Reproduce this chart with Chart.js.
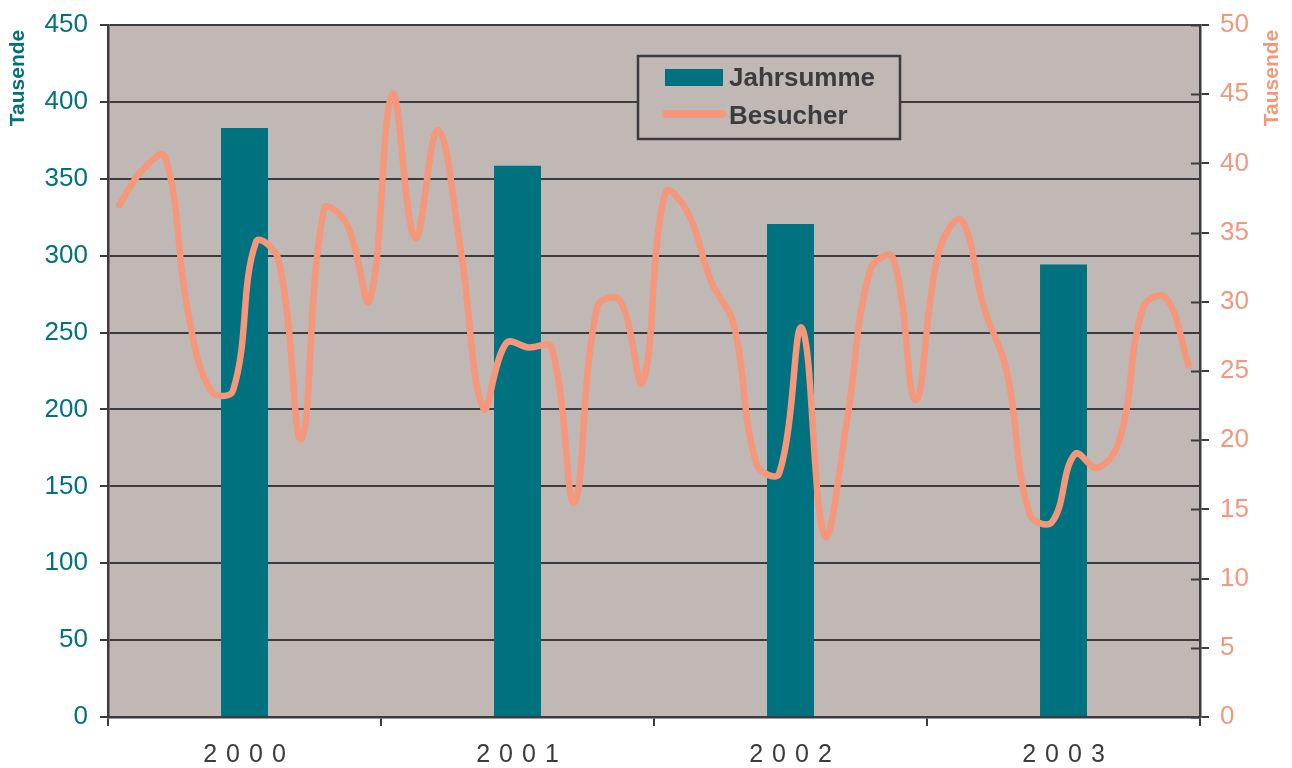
<!DOCTYPE html>
<html>
<head>
<meta charset="utf-8">
<script src="https://cdn.jsdelivr.net/npm/chart.js@4/dist/chart.umd.min.js"></script>
<style>
html,body{margin:0;padding:0;background:#fff;}
#wrap{width:1292px;height:768px;position:relative;}
</style>
</head>
<body>
<div id="wrap"><canvas id="c" width="1292" height="768"></canvas></div>
<script>
const years = ['2000','2001','2002','2003'];
const yearTotals = [383, 358.5, 320.6, 294.2];
const months = ['Jan','Feb','Mär','Apr','Mai','Jun','Jul','Aug','Sep','Okt','Nov','Dez'];
const monthLabels = [];
years.forEach(y => months.forEach(m => monthLabels.push(m + ' ' + y)));
const visitors = [
  37.0, 39.5, 40.5, 29.4, 23.6, 23.6, 34.3, 33.0, 20.1, 36.7, 35.6, 30.1,
  45.0, 34.6, 42.4, 33.8, 22.3, 27.0, 26.7, 26.7, 15.5, 29.6, 30.1, 24.2,
  37.9, 36.4, 31.5, 28.4, 18.3, 17.6, 28.1, 13.1, 21.6, 32.3, 33.2, 22.9,
  33.5, 35.9, 29.6, 25.0, 14.7, 14.1, 19.0, 18.0, 20.2, 29.6, 30.3, 25.4
];
const leftTicks = {min:0, max:450, step:50};
const rightTicks = {min:0, max:50, step:5};
const axisTitle = 'Tausende';

const TEAL = '#00717e';
const SALMON = '#f4977a';
const DARK = '#3b3b40';
const PLOTBG = '#c0b8b5';
const FONT = "'Liberation Sans', Arial, sans-serif";

const decor = {
  id: 'decor',
  beforeDraw(chart) {
    const {ctx, chartArea: a} = chart;
    ctx.save();
    ctx.fillStyle = PLOTBG;
    ctx.fillRect(a.left, a.top, a.right - a.left, a.bottom - a.top);
    ctx.restore();
  },
  afterDraw(chart) {
    const {ctx, chartArea: a} = chart;
    const y2 = chart.scales.y2;
    ctx.save();
    ctx.strokeStyle = DARK; ctx.lineWidth = 2;
    y2.ticks.forEach(t => {
      const py = Math.round(y2.getPixelForValue(t.value)) + 0.5;
      ctx.beginPath(); ctx.moveTo(a.right - 9, py); ctx.lineTo(a.right, py); ctx.stroke();
    });
    ctx.font = 'bold 21px ' + FONT;
    ctx.textAlign = 'center'; ctx.textBaseline = 'middle';
    ctx.fillStyle = TEAL;
    ctx.save(); ctx.translate(18, 78); ctx.rotate(-Math.PI/2); ctx.fillText(axisTitle, 0, 0); ctx.restore();
    ctx.fillStyle = SALMON;
    ctx.save(); ctx.translate(1272, 78); ctx.rotate(-Math.PI/2); ctx.fillText(axisTitle, 0, 0); ctx.restore();
    const lx = 638, ly = 56, lw = 262, lh = 83;
    ctx.fillStyle = PLOTBG; ctx.fillRect(lx, ly, lw, lh);
    ctx.strokeStyle = DARK; ctx.lineWidth = 2.5; ctx.strokeRect(lx, ly, lw, lh);
    const ds = chart.data.datasets;
    ctx.fillStyle = TEAL; ctx.fillRect(665, 69, 58, 17);
    ctx.strokeStyle = SALMON; ctx.lineWidth = 8; ctx.lineCap = 'round';
    ctx.beginPath(); ctx.moveTo(666, 114); ctx.lineTo(722, 114); ctx.stroke();
    ctx.fillStyle = DARK; ctx.font = 'bold 26px ' + FONT;
    ctx.textAlign = 'left'; ctx.textBaseline = 'alphabetic';
    ctx.fillText(ds[0].label, 729, 86);
    ctx.fillText(ds[1].label, 729, 124);
    ctx.restore();
  }
};

new Chart(document.getElementById('c'), {
  type: 'bar',
  data: {
    labels: years,
    datasets: [
      {
        type: 'bar', label: 'Jahrsumme', data: yearTotals,
        backgroundColor: TEAL, xAxisID: 'x', yAxisID: 'y', grouped: false,
        categoryPercentage: 1, barPercentage: 0.172, order: 2
      },
      {
        type: 'line', label: 'Besucher', data: visitors,
        borderColor: SALMON, borderWidth: 6.5, pointRadius: 0, tension: 0.4,
        borderCapStyle: 'round', borderJoinStyle: 'round',
        xAxisID: 'x2', yAxisID: 'y2', order: 1, fill: false
      }
    ]
  },
  options: {
    responsive: false, animation: false, devicePixelRatio: 1,
    layout: {padding: {top: 23, left: 0, right: 0, bottom: 0}},
    plugins: {legend: {display: false}, tooltip: {enabled: false}},
    scales: {
      x: {
        type: 'category', labels: years, offset: true, position: 'bottom',
        grid: {offset: true, drawOnChartArea: false, drawTicks: true, tickLength: 9, color: DARK, lineWidth: 2},
        border: {color: DARK, width: 2.5},
        ticks: {color: DARK, font: {family: FONT, size: 25}, padding: 14,
                callback: function(v){ return this.getLabelForValue(v).split('').join(' \u200A'); }},
        afterFit: s => { s.height = 51; }
      },
      x2: {type: 'category', labels: monthLabels, offset: true, display: false},
      y: {
        position: 'left', min: leftTicks.min, max: leftTicks.max,
        ticks: {stepSize: leftTicks.step, color: TEAL, font: {family: FONT, size: 26, lineHeight: 1}, padding: 12},
        grid: {color: DARK, lineWidth: 2, tickLength: 8},
        border: {color: DARK, width: 2.5},
        afterFit: s => { s.width = 108; }
      },
      y2: {
        position: 'right', min: rightTicks.min, max: rightTicks.max,
        ticks: {stepSize: rightTicks.step, color: SALMON, font: {family: FONT, size: 26, lineHeight: 1}, padding: 11},
        grid: {drawOnChartArea: false, color: DARK, lineWidth: 2, tickLength: 9},
        border: {color: DARK, width: 2.5},
        afterFit: s => { s.width = 92; }
      }
    }
  },
  plugins: [decor]
});
</script>
</body>
</html>
